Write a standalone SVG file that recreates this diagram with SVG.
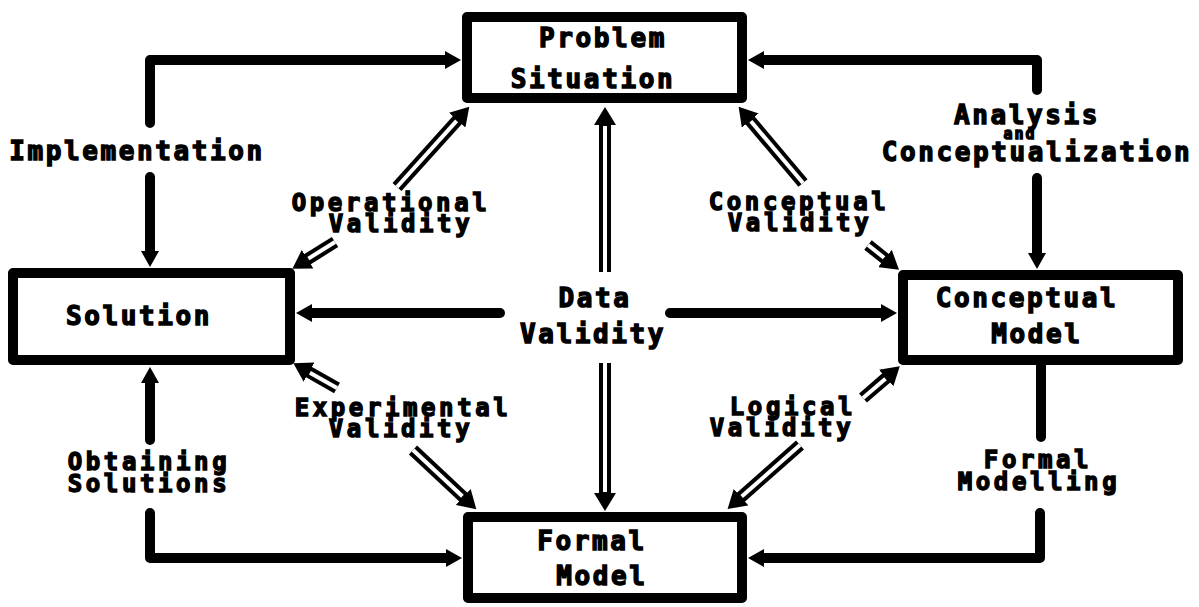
<svg xmlns="http://www.w3.org/2000/svg" width="1199" height="607" viewBox="0 0 1199 607">
<style>
.box{fill:#fff;stroke:#000;stroke-width:10;stroke-linejoin:round}
.t{font-family:"DejaVu Sans Mono","Liberation Mono",monospace;font-weight:bold;font-size:26px;letter-spacing:2.6px;fill:#000;stroke:#000;stroke-width:1.4;text-anchor:middle}
.v{font-size:24px;letter-spacing:3.6px}
.s{fill:none;stroke:#000;stroke-width:10;stroke-linejoin:round;stroke-linecap:round}
.s0{fill:none;stroke:#000;stroke-width:10;stroke-linecap:round}
.dout{fill:none;stroke:#000;stroke-width:12}
.din{fill:none;stroke:#fff;stroke-width:4}
</style>
<defs>
<marker id="ah" viewBox="0 -9 16 18" refX="1" refY="0" markerWidth="16" markerHeight="18" markerUnits="userSpaceOnUse" orient="auto">
<path d="M0,-9 L16,0 L0,9 z" fill="#000"/>
</marker>
<marker id="ad" viewBox="0 -11 18 22" refX="1" refY="0" markerWidth="18" markerHeight="22" markerUnits="userSpaceOnUse" orient="auto">
<path d="M0,-11 L18,0 L0,11 z" fill="#000"/>
</marker>
</defs>

<g id="connectors">
<path class="s" d="M150,123 V60 H446" marker-end="url(#ah)"/>
<path class="s" d="M150,177 V252" marker-end="url(#ah)"/>
<path class="s" d="M1037,90 V60 H763" marker-end="url(#ah)"/>
<path class="s" d="M1037,178 V254" marker-end="url(#ah)"/>
<path class="s" d="M150,440 V382" marker-end="url(#ah)"/>
<path class="s" d="M150,513 V558 H447" marker-end="url(#ah)"/>
<path class="s0" d="M1041,365 V437"/>
<path class="s" d="M1040,513 V558 H763" marker-end="url(#ah)"/>
<path class="s0" d="M500,313 H311" marker-end="url(#ah)"/>
<path class="s0" d="M670,313 H882" marker-end="url(#ah)"/>

<line class="dout" x1="605" y1="272" x2="605" y2="124" marker-end="url(#ad)"/>
<line class="din" x1="605" y1="272" x2="605" y2="126"/>
<line class="dout" x1="605" y1="363" x2="605" y2="494" marker-end="url(#ad)"/>
<line class="din" x1="605" y1="363" x2="605" y2="492"/>

<line class="dout" x1="397" y1="187" x2="457.9" y2="119.4" marker-end="url(#ad)"/>
<line class="din" x1="397" y1="187" x2="456.6" y2="120.9"/>
<line class="dout" x1="335" y1="242" x2="306.8" y2="259.7" marker-end="url(#ad)"/>
<line class="din" x1="335" y1="242" x2="308.4" y2="258.6"/>

<line class="dout" x1="803" y1="183" x2="749.6" y2="119.8" marker-end="url(#ad)"/>
<line class="din" x1="803" y1="183" x2="750.9" y2="121.3"/>
<line class="dout" x1="868" y1="245" x2="885.7" y2="259.1" marker-end="url(#ad)"/>
<line class="din" x1="868" y1="245" x2="884.1" y2="257.8"/>

<line class="dout" x1="337" y1="388" x2="308.2" y2="371.6" marker-end="url(#ad)"/>
<line class="din" x1="337" y1="388" x2="309.9" y2="372.7"/>
<line class="dout" x1="413" y1="450" x2="463.9" y2="497.7" marker-end="url(#ad)"/>
<line class="din" x1="413" y1="450" x2="462.4" y2="496.3"/>

<line class="dout" x1="863" y1="398" x2="886.9" y2="377.4" marker-end="url(#ad)"/>
<line class="din" x1="863" y1="398" x2="885.5" y2="378.8"/>
<line class="dout" x1="800" y1="445" x2="740.3" y2="497.8" marker-end="url(#ad)"/>
<line class="din" x1="800" y1="445" x2="741.7" y2="496.5"/>
</g>

<g id="labels">
<text class="t" x="137" y="160">Implementation</text>
<text class="t" x="1027" y="124">Analysis</text>
<text class="t" x="1020" y="139" style="font-size:15px;letter-spacing:2px">and</text>
<text class="t" x="1037" y="161">Conceptualization</text>
<text class="t v" x="391" y="211">Operational</text>
<text class="t v" x="401" y="232">Validity</text>
<text class="t v" x="799" y="210">Conceptual</text>
<text class="t v" x="800" y="231">Validity</text>
<text class="t" x="595" y="307">Data</text>
<text class="t" x="593" y="343">Validity</text>
<text class="t v" x="403" y="416">Experimental</text>
<text class="t v" x="401" y="437">Validity</text>
<text class="t v" x="793" y="415">Logical</text>
<text class="t v" x="782" y="436">Validity</text>
<text class="t v" x="149" y="470">Obtaining</text>
<text class="t v" x="149" y="492">Solutions</text>
<text class="t v" x="1038" y="468">Formal</text>
<text class="t v" x="1039" y="490">Modelling</text>
</g>

<g id="problem-situation">
<rect class="box" x="467" y="17" width="275" height="81"/>
<text class="t" x="603" y="47">Problem</text>
<text class="t" x="593" y="88">Situation</text>
</g>

<g id="solution">
<rect class="box" x="13" y="273" width="277" height="87"/>
<text class="t" x="139" y="325">Solution</text>
</g>

<g id="conceptual-model">
<rect class="box" x="903" y="275" width="275" height="85"/>
<text class="t" x="1027" y="307">Conceptual</text>
<text class="t" x="1037" y="343">Model</text>
</g>

<g id="formal-model">
<rect class="box" x="468" y="517" width="274" height="81"/>
<text class="t" x="592" y="550">Formal</text>
<text class="t" x="602" y="585">Model</text>
</g>
</svg>
